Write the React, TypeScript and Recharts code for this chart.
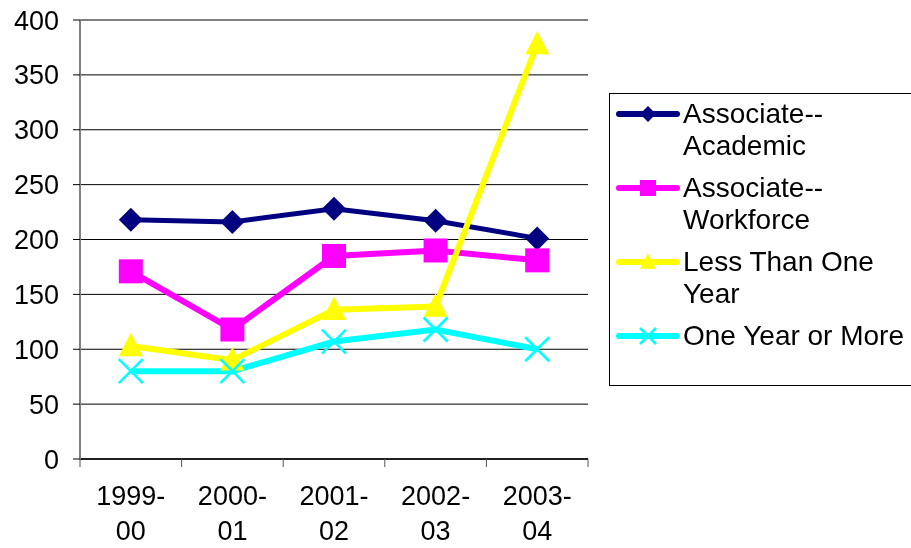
import React from 'react'
import { LineChart, Line, XAxis, YAxis, CartesianGrid, Legend } from 'recharts'

const categories = ['1999-00', '2000-01', '2001-02', '2002-03', '2003-04']
const academic = [218, 216, 228, 217, 201]
const workforce = [171, 118, 185, 190, 181]
const lessThanOne = [103, 90, 136, 139, 378]
const oneOrMore = [80, 80, 107, 118, 100]
const yTicks = [0, 50, 100, 150, 200, 250, 300, 350, 400]

const FONT = '"Liberation Sans", Arial, sans-serif'

const data = categories.map((cat, i) => ({
    cat,
    pos: i + 0.5,
    academic: academic[i],
    workforce: workforce[i],
    lessThanOne: lessThanOne[i],
    oneOrMore: oneOrMore[i],
}))

type Shape = 'diamond' | 'square' | 'triangle' | 'cross'

const series: { key: string, name: string, color: string, width: number, shape: Shape }[] = [
    { key: 'academic', name: 'Associate-- Academic', color: '#000080', width: 5, shape: 'diamond' },
    { key: 'workforce', name: 'Associate-- Workforce', color: '#FF00FF', width: 6, shape: 'square' },
    { key: 'lessThanOne', name: 'Less Than One Year', color: '#FFFF00', width: 6, shape: 'triangle' },
    { key: 'oneOrMore', name: 'One Year or More', color: '#00FFFF', width: 6, shape: 'cross' },
]

function marker(shape: Shape, color: string, cx: number, cy: number, s: number, key?: string) {
    if (shape === 'diamond') {
        return <polygon key={key} points={`${cx},${cy - s} ${cx + s},${cy} ${cx},${cy + s} ${cx - s},${cy}`} fill={color} />
    }
    if (shape === 'square') {
        return <rect key={key} x={cx - s} y={cy - s} width={s * 2} height={s * 2} fill={color} />
    }
    if (shape === 'triangle') {
        return <polygon key={key} points={`${cx},${cy - s * 1.1} ${cx + s},${cy + s * 0.85} ${cx - s},${cy + s * 0.85}`} fill={color} />
    }
    return (
        <g key={key}>
            <line x1={cx - s} y1={cy - s} x2={cx + s} y2={cy + s} stroke={color} strokeWidth={2.5} />
            <line x1={cx - s} y1={cy + s} x2={cx + s} y2={cy - s} stroke={color} strokeWidth={2.5} />
        </g>
    )
}

const makeDot = (shape: Shape, color: string) => (props: any) => {
    const { cx, cy, index } = props
    return marker(shape, color, cx, cy, 12, `dot-${shape}-${index}`)
}

const HALF_BAND = 50.8

function CategoryTick(props: any) {
    const { x, y, payload } = props
    const label = categories[payload.value]
    if (!label) {
        return <g />
    }
    const [first, second] = label.split('-')
    return (
        <g>
            <text x={x + HALF_BAND} y={y + 36} textAnchor="middle" fontSize={27} fontFamily={FONT} fill="#000">{first}-</text>
            <text x={x + HALF_BAND} y={y + 71} textAnchor="middle" fontSize={27} fontFamily={FONT} fill="#000">{second}</text>
        </g>
    )
}

function ChartLegend() {
    return (
        <div style={{
            border: '1px solid #000',
            boxSizing: 'border-box',
            width: 310,
            height: 293,
            padding: '4px 0 0 6px',
            background: '#fff',
            fontFamily: FONT,
            fontSize: 28,
            lineHeight: '32px',
            color: '#000',
        }}>
            {series.map((s) => (
                <div key={s.key} style={{ display: 'flex', alignItems: 'flex-start', marginBottom: 10 }}>
                    <svg width={64} height={32} style={{ flex: 'none' }}>
                        <line x1={3} y1={16} x2={61} y2={16} stroke={s.color} strokeWidth={6} strokeLinecap="round" />
                        {marker(s.shape, s.color, 32, 16, 8)}
                    </svg>
                    <div style={{ width: 234, marginLeft: 3 }}>{s.name}</div>
                </div>
            ))}
        </div>
    )
}

export default function App() {
    return (
        <div style={{ position: 'fixed', left: 8, top: 0 }}>
            <LineChart width={903} height={548} data={data} margin={{ top: 20, right: 323, bottom: 10, left: 0 }}>
                <CartesianGrid vertical={false} stroke="#000" strokeWidth={1} />
                <XAxis
                    dataKey="pos"
                    type="number"
                    domain={[0, 5]}
                    ticks={[0, 1, 2, 3, 4, 5]}
                    interval={0}
                    height={79}
                    tickSize={8}
                    axisLine={{ stroke: '#000', strokeWidth: 1.5 }}
                    tickLine={{ stroke: '#555' }}
                    tick={<CategoryTick />}
                />
                <YAxis
                    domain={[0, 400]}
                    ticks={yTicks}
                    interval={0}
                    width={72}
                    tickSize={7}
                    tickMargin={14}
                    axisLine={{ stroke: '#808080', strokeWidth: 2 }}
                    tickLine={{ stroke: '#000' }}
                    tick={{ fill: '#000', fontSize: 27, fontFamily: FONT }}
                />
                <YAxis
                    yAxisId="r"
                    orientation="right"
                    domain={[0, 400]}
                    width={0}
                    tick={false}
                    tickLine={false}
                    axisLine={{ stroke: '#808080', strokeWidth: 2 }}
                />
                <Legend
                    layout="horizontal"
                    verticalAlign="middle"
                    align="center"
                    wrapperStyle={{ left: 601, top: 93, width: 310, height: 293 }}
                    content={() => <ChartLegend />}
                />
                {series.map((s) => (
                    <Line
                        key={s.key}
                        type="linear"
                        dataKey={s.key}
                        name={s.name}
                        stroke={s.color}
                        strokeWidth={s.width}
                        dot={makeDot(s.shape, s.color)}
                        activeDot={false}
                        isAnimationActive={false}
                    />
                ))}
            </LineChart>
        </div>
    )
}
